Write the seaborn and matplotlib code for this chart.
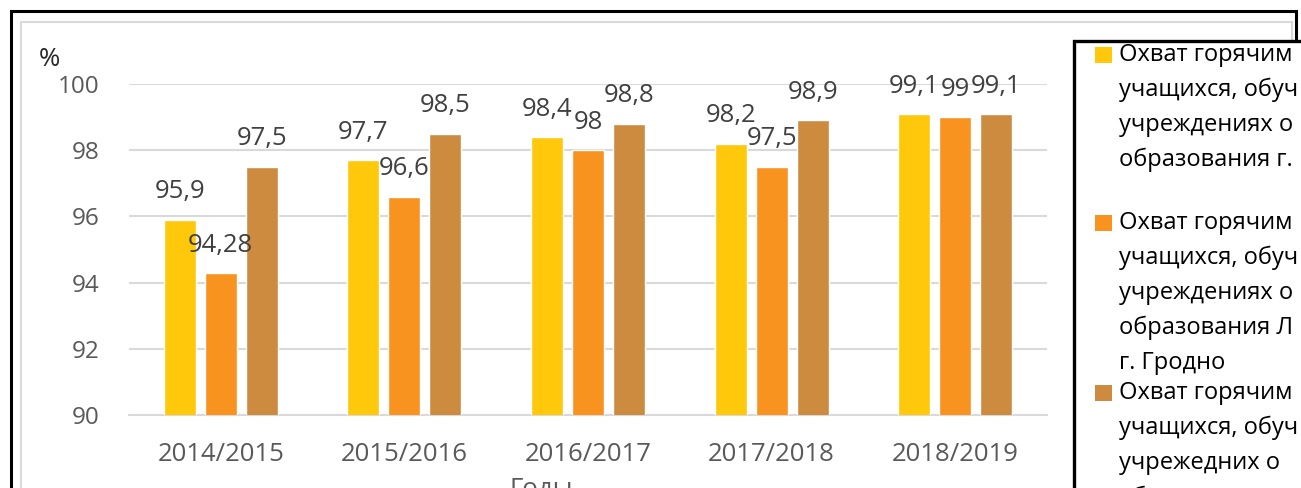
import matplotlib
matplotlib.use("Agg")
import matplotlib.pyplot as plt
import seaborn as sns
import pandas as pd
from matplotlib.patches import Rectangle

# ---------------- data ----------------
years = ["2014/2015", "2015/2016", "2016/2017", "2017/2018", "2018/2019"]
series_keys = ["city", "leninsky", "oktyabrsky"]
city_values = [95.9, 97.7, 98.4, 98.2, 99.1]
leninsky_values = [94.28, 96.6, 98.0, 97.5, 99.0]
oktyabrsky_values = [97.5, 98.5, 98.8, 98.9, 99.1]
y_ticks = [90, 92, 94, 96, 98, 100]
# legend text as visible in the (cropped) reference
legend_lines = [
    ["Охват горячим", "учащихся, обуч", "учреждениях о", "образования г."],
    ["Охват горячим", "учащихся, обуч", "учреждениях о", "образования Л",
     "г. Гродно"],
    ["Охват горячим", "учащихся, обуч", "учрежедних о", "образования"],
]
colors = ["#FFC80A", "#F7931E", "#CD8B3F"]
y_label = "%"
x_label = "Годы"

df = pd.DataFrame({
    "year": years * 3,
    "series": sum([[k] * len(years) for k in series_keys], []),
    "value": city_values + leninsky_values + oktyabrsky_values,
})

# ---------------- style ----------------
sns.set_style("white")
plt.rcParams["font.family"] = ["Open Sans", "DejaVu Sans"]

W, H = 1301, 488
fig = plt.figure(figsize=(W / 100, H / 100), dpi=100)

def fx(px):
    return px / W

def fy(py):
    return 1 - py / H

ax_left, ax_right, ax_top, ax_bottom = 129, 1047, 84, 415
ax = fig.add_axes([fx(ax_left), fy(ax_bottom), (ax_right - ax_left) / W, (ax_bottom - ax_top) / H])

sns.barplot(data=df, x="year", y="value", hue="series", order=years,
            hue_order=series_keys, palette=colors, width=0.67, gap=0.22,
            saturation=1, errorbar=None, legend=False, ax=ax, zorder=3)

ax.set_ylim(90, 100)
ax.set_yticks(y_ticks)
ax.set_xlim(-0.5, len(years) - 0.5)
ax.yaxis.grid(True, color="#D9D9D9", lw=1.5, zorder=0)
ax.set_axisbelow(True)
for s in ["left", "right", "top"]:
    ax.spines[s].set_visible(False)
ax.spines["bottom"].set_color("#D9D9D9")
ax.spines["bottom"].set_linewidth(1.5)
ax.tick_params(axis="y", length=0, pad=21, labelsize=17.5, labelcolor="#595959")
ax.tick_params(axis="x", length=0, pad=19.5, labelsize=18.5, labelcolor="#595959")
ax.set_xlabel("")
ax.set_ylabel("")

def fmt(v):
    return f"{v:g}".replace(".", ",")

for cont in ax.containers:
    ax.bar_label(cont, labels=[fmt(b.get_height()) for b in cont],
                 padding=11, fontsize=18.5, color="#404040")

# axis titles
fig.text(fx(49), fy(60), y_label, ha="center", va="center", fontsize=18.5, color="#262626")
fig.text(fx(541), fy(477), x_label, ha="center", va="top", fontsize=18.5, color="#595959")

# chart borders
big = 600
fig.add_artist(Rectangle((fx(21.5), fy(big)), (1292 - 21.5) / W, (big - 21.5) / H,
                         transform=fig.transFigure, fill=False, ec="#D9D9D9", lw=1.5, zorder=1))
fig.add_artist(Rectangle((fx(10.5), fy(big)), (1296 - 10.5) / W, (big - 10.5) / H,
                         transform=fig.transFigure, fill=False, ec="black", lw=2.2, zorder=2))

# legend box
fig.add_artist(Rectangle((fx(1073.5), fy(big)), (1500 - 1073.5) / W, (big - 40.5) / H,
                         transform=fig.transFigure, fc="white", ec="black", lw=2.4, zorder=5))
block_starts = [55, 223, 393]
step = 35
for i, lines in enumerate(legend_lines):
    y0 = block_starts[i]
    fig.add_artist(Rectangle((fx(1095), fy(y0 + 8)), 17 / W, 16 / H,
                             transform=fig.transFigure, fc=colors[i], ec="none", zorder=6))
    for j, line in enumerate(lines):
        fig.text(fx(1119), fy(y0 + j * step), line, ha="left", va="center",
                 fontsize=17, color="black", zorder=7)

fig.savefig("out.png", dpi=100)
